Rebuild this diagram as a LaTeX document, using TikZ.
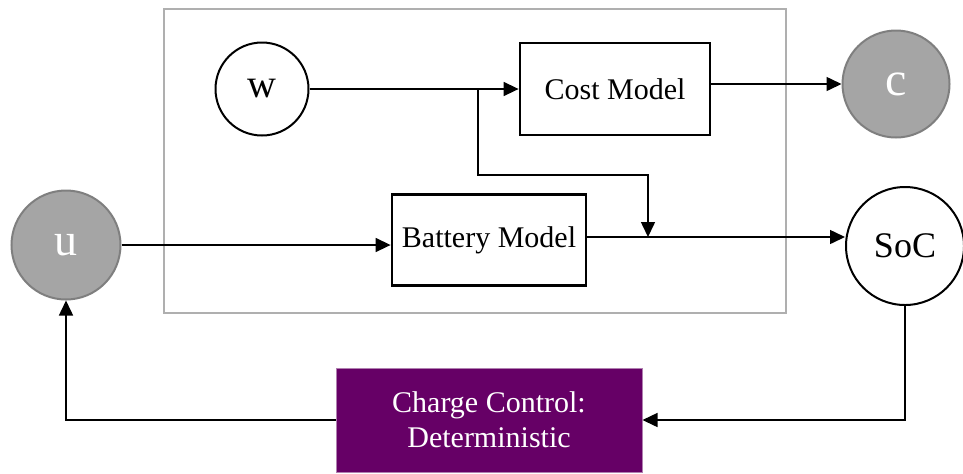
\documentclass[tikz,border=0pt]{standalone}
\usepackage{fontspec}
\setmainfont{Liberation Serif}
\usetikzlibrary{positioning,arrows.meta}

\definecolor{obsgrey}{HTML}{A5A5A5}
\definecolor{rimgrey}{HTML}{7F7F7F}
\definecolor{framegrey}{HTML}{AFAFAF}
\definecolor{ctrlpurple}{HTML}{660066}
\definecolor{ctrlrim}{HTML}{B07FB0}

\begin{document}
\begin{tikzpicture}[
  x=0.5pt, y=-0.5pt,
  font=\fontsize{15}{17.5}\selectfont,
  >={Triangle[length=7.5pt,width=7pt]},
  blk/.style={draw, line width=1.4pt, align=center, inner sep=0pt},
  var/.style={circle, draw, line width=1pt, inner sep=0pt},
  obs/.style={var, fill=obsgrey, draw=rimgrey, text=white},
  ar/.style={->, line width=0.75pt},
]
  \useasboundingbox (0,0) rectangle (963,473);

  % plant boundary
  \node[draw=framegrey, line width=1.2pt, inner sep=0pt,
        minimum width=311pt, minimum height=152pt] (plant) at (475,161) {};

  \node[var, minimum size=46.5pt, font=\fontsize{20}{20}\selectfont] (w) at (262,89) {w};
  \node[blk, minimum width=95pt, minimum height=46pt] (cost) at (615,89) {Cost Model};
  \node[blk, minimum width=97pt, minimum height=45.5pt] (bat) at (489,240) {Battery Model};

  \node[obs, minimum size=53.5pt, font=\fontsize{24}{24}\selectfont] (c) at (896,84) {c};
  \node[obs, minimum size=54.5pt, font=\fontsize{23}{23}\selectfont] (u) at (66,245) {u};
  \node[var, minimum size=59pt, font=\fontsize{18}{18}\selectfont] (soc) at (905,246) {SoC};

  \node[blk, draw=ctrlrim, line width=0.5pt, fill=ctrlpurple, text=white,
        minimum width=153pt, minimum height=52pt] (ctrl) at (489,420)
        {Charge Control:\\Deterministic};

  % signal flow
  \coordinate (split) at (478,89);
  \coordinate (join) at (648,237);
  \draw[ar] (w) -- (cost);
  \draw[ar] (split) -- ++(0,86) -| (join);
  \draw[ar] (u) -- (u -| bat.west);
  \draw[ar] (bat.east |- join) -- (join -| soc.west);
  \draw[ar] (cost.east |- c) -- (c);

  % feedback loop
  \draw[ar] (soc) |- (ctrl);
  \draw[ar] (ctrl) -| (u);
\end{tikzpicture}
\end{document}
